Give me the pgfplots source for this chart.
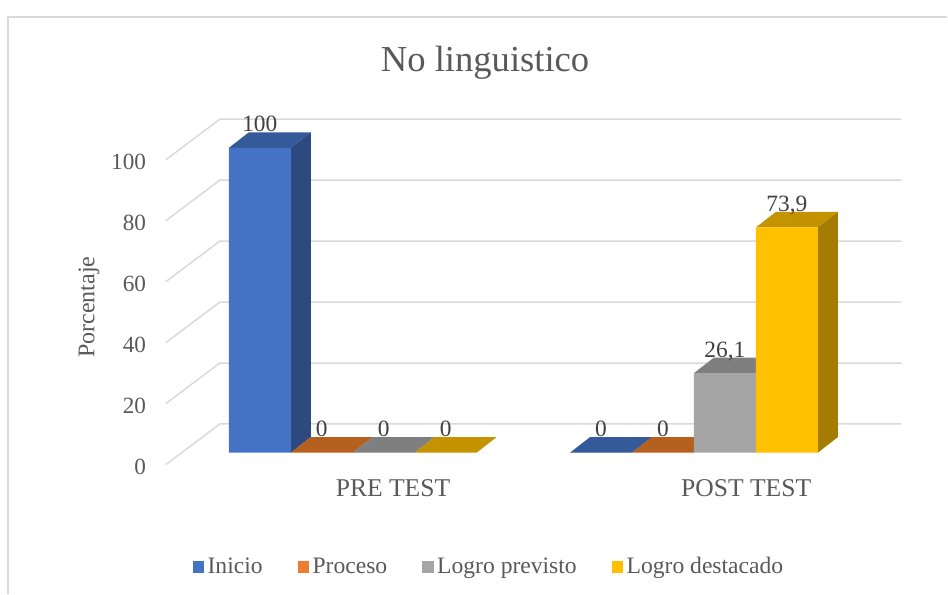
\documentclass[border=0pt]{standalone}
\usepackage{fontspec}
\setmainfont{Liberation Serif}
\usepackage{pgfplots}
\pgfplotsset{compat=1.18}
\definecolor{txt}{HTML}{595959}
\definecolor{lbl}{HTML}{404040}
\definecolor{gridc}{HTML}{D9D9D9}
\definecolor{bluF}{HTML}{4472C4}
\definecolor{bluT}{HTML}{345A9A}
\definecolor{bluS}{HTML}{2C4A80}
\definecolor{oraF}{HTML}{ED7D31}
\definecolor{oraT}{HTML}{B5601F}
\definecolor{gryF}{HTML}{A5A5A5}
\definecolor{gryT}{HTML}{7F7F7F}
\definecolor{gryS}{HTML}{6E6E6E}
\definecolor{yelF}{HTML}{FFC000}
\definecolor{yelT}{HTML}{C49400}
\definecolor{yelS}{HTML}{A37C00}
\begin{document}
\begin{tikzpicture}
\begin{axis}[
  width=474pt, height=297pt, scale only axis,
  xmin=0, xmax=948, ymin=-46.23, ymax=148.52,
  axis lines=none, xtick=\empty, ytick=\empty,
  clip=false,
  /pgf/number format/assume math mode=true,
  /pgf/number format/use comma,
  /pgf/number format/fixed,
  /pgf/number format/precision=1,
  front/.style={ybar, bar width=62, bar shift=0pt, draw=none, forget plot,
    nodes near coords,
    every node near coord/.append style={anchor=base, yshift=8pt, inner sep=0pt,
      text=lbl, font=\fontsize{11.7}{14}\selectfont}},
  face/.style={draw=none, forget plot},
  gl/.style={gridc, line width=0.75pt, forget plot},
  legend style={at={(axis cs:490,-37.5)}, anchor=center, draw=none, fill=none,
    legend columns=4, font=\fontsize{11.8}{14}\selectfont, text=txt,
    /tikz/every even column/.append style={column sep=16pt},
    nodes={inner sep=1.6pt}},
  legend image code/.code={\fill (0pt,-2.9pt) rectangle (5.8pt,2.9pt);},
]
% page extent
\path (axis cs:0,-46.23) rectangle (axis cs:948,148.52);
% frame
\addplot[gl] coordinates {(8,-46.23) (8,142.95) (948,142.95)};
% gridlines (left wall diagonal + back wall)
\addplot[gl] coordinates {(166,-3.9) (220,9.4) (902,9.4)};
\addplot[gl] coordinates {(166,16.1) (220,29.4) (902,29.4)};
\addplot[gl] coordinates {(166,36.1) (220,49.4) (902,49.4)};
\addplot[gl] coordinates {(166,56.1) (220,69.4) (902,69.4)};
\addplot[gl] coordinates {(166,76.1) (220,89.4) (902,89.4)};
\addplot[gl] coordinates {(166,96.1) (220,109.4) (902,109.4)};

% Inicio
\addplot[face, fill=bluT] coordinates {(229,100) (291,100) (311,105.1) (249,105.1)} --cycle;
\addplot[face, fill=bluS] coordinates {(291,0) (311,5.1) (311,105.1) (291,100)} --cycle;
\addplot[face, fill=bluT] coordinates {(570.5,0) (632.5,0) (652.5,5.1) (590.5,5.1)} --cycle;
\addplot[front, fill=bluF] coordinates {(260,100) (601.5,0)};
% Proceso
\addplot[face, fill=oraT] coordinates {(291,0) (353,0) (373,5.1) (311,5.1)} --cycle;
\addplot[face, fill=oraT] coordinates {(632.5,0) (694.5,0) (714.5,5.1) (652.5,5.1)} --cycle;
\addplot[front, fill=oraF] coordinates {(322,0) (663.5,0)};
% Logro previsto
\addplot[face, fill=gryT] coordinates {(353,0) (415,0) (435,5.1) (373,5.1)} --cycle;
\addplot[face, fill=gryT] coordinates {(694.5,26.1) (756.5,26.1) (776.5,31.2) (714.5,31.2)} --cycle;
\addplot[face, fill=gryS] coordinates {(756.5,0) (776.5,5.1) (776.5,31.2) (756.5,26.1)} --cycle;
\addplot[front, fill=gryF] coordinates {(384,0) (725.5,26.1)};
% Logro destacado
\addplot[face, fill=yelT] coordinates {(415,0) (477,0) (497,5.1) (435,5.1)} --cycle;
\addplot[face, fill=yelT] coordinates {(756.5,73.9) (818.5,73.9) (838.5,79) (776.5,79)} --cycle;
\addplot[face, fill=yelS] coordinates {(818.5,0) (838.5,5.1) (838.5,79) (818.5,73.9)} --cycle;
\addplot[front, fill=yelF] coordinates {(446,0) (787.5,73.9)};

% legend
\addlegendimage{fill=bluF, draw=none}
\addlegendentry{Inicio}
\addlegendimage{fill=oraF, draw=none}
\addlegendentry{Proceso}
\addlegendimage{fill=gryF, draw=none}
\addlegendentry{Logro previsto}
\addlegendimage{fill=yelF, draw=none}
\addlegendentry{Logro destacado}

% texts
\node[anchor=base, text=txt, font=\fontsize{18.3}{22}\selectfont] at (axis cs:485.5,125.0) {No linguistico};
\node[rotate=90, text=txt, font=\fontsize{12}{14}\selectfont] at (axis cs:89,47.7) {Porcentaje};
\begin{scope}[every node/.style={anchor=east, inner sep=0pt, text=txt, font=\fontsize{11.6}{14}\selectfont}]
\node at (axis cs:146.5,-4.6) {0};
\node at (axis cs:146.5,15.4) {20};
\node at (axis cs:146.5,35.4) {40};
\node at (axis cs:146.5,55.4) {60};
\node at (axis cs:146.5,75.4) {80};
\node at (axis cs:146.5,95.4) {100};
\end{scope}
\node[anchor=base, inner sep=0pt, text=txt, font=\fontsize{12.8}{15}\selectfont] at (axis cs:393.3,-14.3) {PRE TEST};
\node[anchor=base, inner sep=0pt, text=txt, font=\fontsize{12.8}{15}\selectfont] at (axis cs:746.7,-14.3) {POST TEST};
\end{axis}
\end{tikzpicture}
\end{document}
